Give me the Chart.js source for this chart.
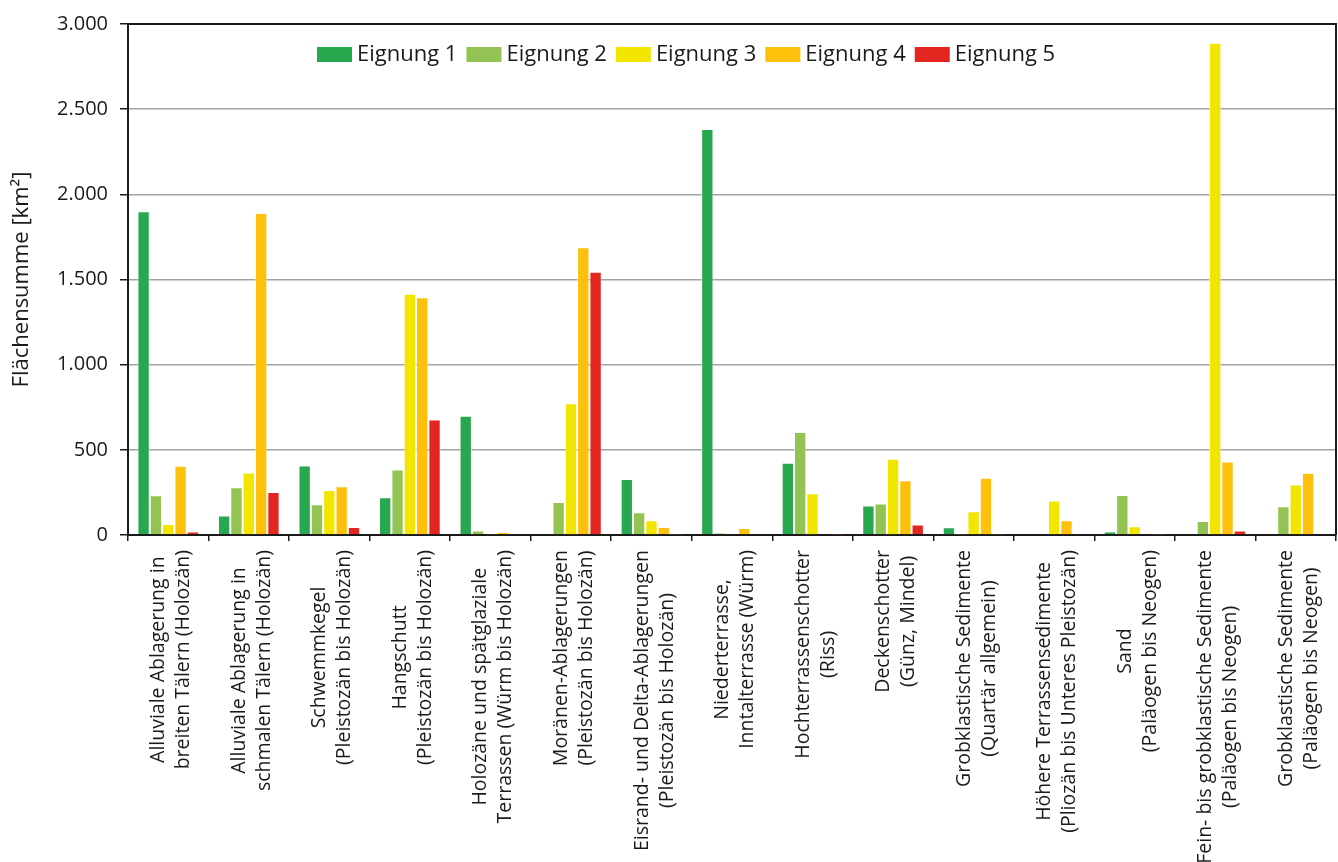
<!DOCTYPE html>
<html>
<head>
<meta charset="utf-8">
<script src="https://cdn.jsdelivr.net/npm/chart.js@4.4.0/dist/chart.umd.min.js"></script>
<style>
	html, body { margin: 0; padding: 0; background: #fff; }
	#wrap { width: 1338px; height: 862px; }
</style>
</head>
<body>
<div id="wrap"><canvas id="flaechenChart"></canvas></div>
<script>
"use strict";

// Data
var categories = [
	["Alluviale Ablagerung in", "breiten Tälern (Holozän)"],
	["Alluviale Ablagerung in", "schmalen Tälern (Holozän)"],
	["Schwemmkegel", "(Pleistozän bis Holozän)"],
	["Hangschutt", "(Pleistozän bis Holozän)"],
	["Holozäne und spätglaziale", "Terrassen (Würm bis Holozän)"],
	["Moränen-Ablagerungen", "(Pleistozän bis Holozän)"],
	["Eisrand- und Delta-Ablagerungen", "(Pleistozän bis Holozän)"],
	["Niederterrasse,", "Inntalterrasse (Würm)"],
	["Hochterrassenschotter", "(Riss)"],
	["Deckenschotter", "(Günz, Mindel)"],
	["Grobklastische Sedimente", "(Quartär allgemein)"],
	["Höhere Terrassensedimente", "(Pliozän bis Unteres Pleistozän)"],
	["Sand", "(Paläogen bis Neogen)"],
	["Fein- bis grobklastische Sedimente", "(Paläogen bis Neogen)"],
	["Grobklastische Sedimente", "(Paläogen bis Neogen)"]
];
var eignung1 = [1900, 115, 408, 222, 700, 0, 329, 2384, 424, 173, 45, 0, 21, 0, 0];
var eignung2 = [233, 280, 181, 385, 27, 194, 134, 13, 605, 185, 2, 0, 235, 82, 169];
var eignung3 = [64, 367, 264, 1417, 6, 774, 87, 0, 245, 447, 140, 202, 52, 2890, 297];
var eignung4 = [406, 1890, 286, 1396, 17, 1690, 47, 41, 0, 321, 336, 86, 0, 432, 365];
var eignung5 = [21, 253, 47, 678, 0, 1546, 2, 0, 2, 62, 2, 3, 2, 27, 5];
var yTicks = [0, 500, 1000, 1500, 2000, 2500, 3000];

var textColor = "#1a1a1a";

function formatThousands(v) {
	return String(v).replace(/\B(?=(\d{3})+(?!\d))/g, ".");
}

// Top and right frame lines
var frameLines = {
	id: "frameLines",
	afterDatasetsDraw: function (chart) {
		var a = chart.chartArea;
		var ctx = chart.ctx;
		ctx.save();
		ctx.strokeStyle = textColor;
		ctx.lineWidth = 2;
		ctx.beginPath();
		ctx.moveTo(a.left, a.top);
		ctx.lineTo(a.right, a.top);
		ctx.lineTo(a.right, a.bottom);
		ctx.stroke();
		ctx.restore();
	},
};

// Legend inside the plot area
var legendRow = {
	id: "legendRow",
	afterDraw: function (chart) {
		var ctx = chart.ctx;
		var x = 317;
		var top = 47;
		ctx.save();
		ctx.font = "22px 'Open Sans'";
		ctx.textAlign = "left";
		ctx.textBaseline = "middle";
		chart.data.datasets.forEach(function (ds) {
			ctx.fillStyle = ds.backgroundColor;
			ctx.fillRect(x, top, 35, 15);
			ctx.fillStyle = textColor;
			ctx.fillText(ds.label, x + 40, top + 8);
			x += 40 + ctx.measureText(ds.label).width + 9;
		});
		ctx.restore();
	},
};

// Vertical category labels, lines centred on each other
var categoryLabels = {
	id: "categoryLabels",
	afterDraw: function (chart) {
		var ctx = chart.ctx;
		var xs = chart.scales.x;
		var base = chart.chartArea.bottom + 15;
		var lh = 25;
		ctx.save();
		ctx.font = "19.5px 'Open Sans'";
		ctx.fillStyle = textColor;
		ctx.textAlign = "center";
		ctx.textBaseline = "middle";
		chart.data.labels.forEach(function (lines, i) {
			var w = 0;
			lines.forEach(function (s) {
				w = Math.max(w, ctx.measureText(s).width);
			});
			var cx = xs.getPixelForValue(i) + 3;
			var cy = base + w / 2;
			lines.forEach(function (s, j) {
				ctx.save();
				ctx.translate(cx + (j - (lines.length - 1) / 2) * lh, cy);
				ctx.rotate(-Math.PI / 2);
				ctx.fillText(s, 0, 0);
				ctx.restore();
			});
		});
		ctx.restore();
	},
};

function initFlaechenChart() {
	var el = document.getElementById("flaechenChart");
	new Chart(el, {
		type: "bar",
		data: {
			labels: categories,
			datasets: [
				{ label: "Eignung 1", data: eignung1, backgroundColor: "#27a84f" },
				{ label: "Eignung 2", data: eignung2, backgroundColor: "#93c353" },
				{ label: "Eignung 3", data: eignung3, backgroundColor: "#f2e500" },
				{ label: "Eignung 4", data: eignung4, backgroundColor: "#fdc10c" },
				{ label: "Eignung 5", data: eignung5, backgroundColor: "#e42621" },
			],
		},
		options: {
			animation: false,
			responsive: true,
			maintainAspectRatio: false,
			layout: {
				padding: { top: 21, right: 2, bottom: 0, left: 0 },
			},
			datasets: {
				bar: {
					categoryPercentage: 0.766,
					barPercentage: 1.0,
					borderWidth: 1,
					borderColor: "rgba(255, 255, 255, 0.5)",
				},
			},
			plugins: {
				legend: { display: false },
				tooltip: { enabled: false },
			},
			scales: {
				x: {
					offset: true,
					grid: {
						offset: true,
						drawOnChartArea: false,
						drawTicks: true,
						tickLength: 6,
						tickColor: textColor,
						lineWidth: 1.5,
					},
					border: { color: textColor, width: 2 },
					ticks: { display: false },
					afterFit: function (scale) {
						scale.height = 327;
					},
				},
				y: {
					min: yTicks[0],
					max: yTicks[yTicks.length - 1],
					afterBuildTicks: function (scale) {
						scale.ticks = yTicks.map(function (v) {
							return { value: v };
						});
					},
					grid: {
						color: "#a3a3a3",
						lineWidth: 1.5,
						tickColor: textColor,
						tickLength: 8,
					},
					border: { color: textColor, width: 2 },
					ticks: {
						padding: 12,
						color: textColor,
						font: { family: "'Open Sans'", size: 20 },
						callback: function (v) {
							return formatThousands(v);
						},
					},
					title: {
						display: true,
						text: "Flächensumme [km²]",
						color: textColor,
						font: { family: "'Open Sans'", size: 22 },
						padding: { top: 9, bottom: 0 },
					},
					afterFit: function (scale) {
						scale.width = 128;
					},
				},
			},
		},
		plugins: [frameLines, legendRow, categoryLabels],
	});
}

(function () {
	initFlaechenChart();
})();
</script>
</body>
</html>
